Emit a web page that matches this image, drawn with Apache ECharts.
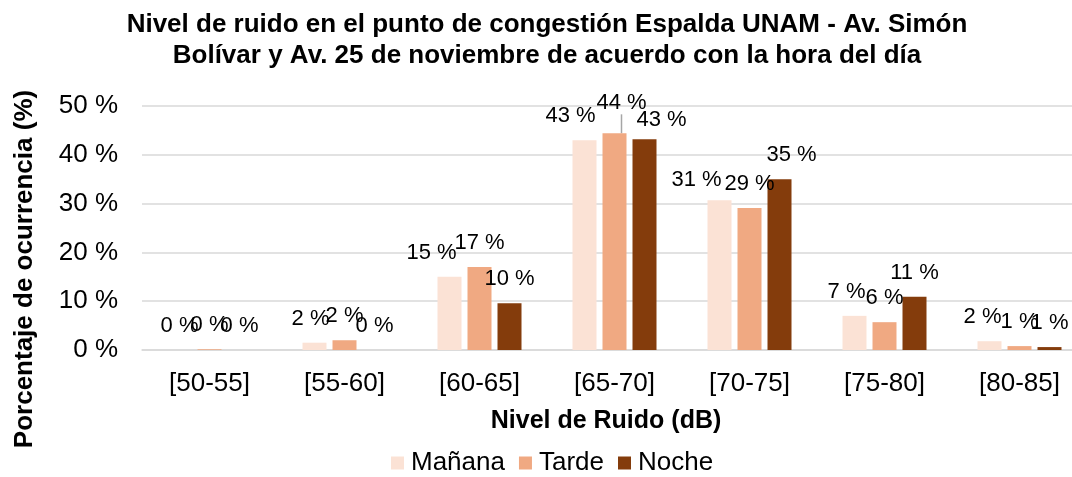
<!DOCTYPE html>
<html>
<head>
<meta charset="utf-8">
<script src="https://cdn.jsdelivr.net/npm/echarts@6/dist/echarts.min.js"></script>
<style>
  html, body { margin: 0; padding: 0; background: #fff; }
  #chart { width: 1072px; height: 477px; }
</style>
</head>
<body>
<div id="chart"></div>
<script>
// Noise-level ranges (dB) and share of occurrence (%) per time of day
const categories = ['[50-55]', '[55-60]', '[60-65]', '[65-70]', '[70-75]', '[75-80]', '[80-85]'];
const manana = [0, 1.5, 15.0, 43.0, 30.7, 7.0, 1.8];
const tarde  = [0.15, 2.0, 17.0, 44.4, 29.1, 5.7, 0.8];
const noche  = [0, 0, 9.6, 43.2, 35.0, 10.9, 0.6];
const yTicks = [0, 10, 20, 30, 40, 50];

const FONT = '"Liberation Sans", Arial, sans-serif';

// Hand-placed label nudges per series (dx, dy), keyed by category index
const labelNudge = [
  { 1: [-4, 0], 2: [-18, 0], 3: [-14, 0], 4: [-23, 4], 5: [-8, 0], 6: [-7, 0] },
  { 3: [7, -6] },
  { 3: [17, 5], 4: [12, 0] }
];
// Labels that were pulled away from their bar and get a leader line
const leaderLines = [[], [3], []];

function makeSeries(name, values, color, idx) {
  return {
    name: name,
    type: 'bar',
    data: values.map((v, i) => leaderLines[idx].includes(i)
      ? { value: v, labelLine: { show: true } }
      : v),
    barWidth: 24,
    barGap: '25%',
    itemStyle: { color: color },
    label: {
      show: true,
      position: 'top',
      distance: 13,
      color: '#000',
      fontFamily: FONT,
      fontSize: 22,
      formatter: p => Math.round(p.value) + ' %'
    },
    labelLine: {
      show: false,
      lineStyle: { color: '#a6a6a6', width: 1.5 }
    },
    labelLayout: function (p) {
      const n = labelNudge[idx][p.dataIndex];
      return n ? { dx: n[0], dy: n[1] } : {};
    }
  };
}

const chart = echarts.init(document.getElementById('chart'), null, { renderer: 'canvas' });
chart.setOption({
  backgroundColor: '#fff',
  animation: false,
  title: {
    text: 'Nivel de ruido en el punto de congestión Espalda UNAM - Av. Simón\nBolívar y Av. 25 de noviembre de acuerdo con la hora del día',
    left: 542,
    textAlign: 'center',
    top: 4,
    textStyle: {
      fontFamily: FONT,
      fontSize: 26,
      fontWeight: 'bold',
      color: '#000',
      lineHeight: 31
    }
  },
  // the plot runs past the right edge of the canvas
  grid: {
    left: 142, width: 945, top: 106, bottom: 127,
    containLabel: false,
    outerBoundsMode: 'none'
  },
  legend: {
    bottom: 1,
    padding: 0,
    left: 391,
    icon: 'rect',
    itemWidth: 13,
    itemHeight: 13,
    itemGap: 14,
    textStyle: { fontFamily: FONT, fontSize: 26, color: '#000', padding: [0, 0, 0, 2] },
    data: ['Mañana', 'Tarde', 'Noche']
  },
  xAxis: {
    type: 'category',
    data: categories,
    name: 'Nivel de Ruido (dB)',
    nameLocation: 'middle',
    nameGap: 59,
    nameTextStyle: { fontFamily: FONT, fontSize: 25, fontWeight: 'bold', color: '#000', padding: [0, 17, 0, 0] },
    axisLine: { show: true, lineStyle: { color: '#d9d9d9', width: 1.5 } },
    axisTick: { show: false },
    axisLabel: { fontFamily: FONT, fontSize: 26, color: '#000', margin: 21 }
  },
  yAxis: {
    type: 'value',
    min: yTicks[0],
    max: yTicks[yTicks.length - 1],
    interval: yTicks[1] - yTicks[0],
    axisLine: { show: false },
    axisTick: { show: false },
    splitLine: { lineStyle: { color: '#d9d9d9', width: 1.5 } },
    axisLabel: { fontFamily: FONT, fontSize: 26, color: '#000', margin: 24, formatter: '{value} %' }
  },
  graphic: [{
    type: 'text',
    x: 25,
    y: 269,
    rotation: Math.PI / 2,
    style: {
      text: 'Porcentaje de ocurrencia (%)',
      textAlign: 'center',
      textVerticalAlign: 'middle',
      font: 'bold 26px ' + FONT,
      fill: '#000'
    }
  }],
  series: [
    makeSeries('Mañana', manana, '#FBE2D5', 0),
    makeSeries('Tarde', tarde, '#F0A982', 1),
    makeSeries('Noche', noche, '#843C0C', 2)
  ]
});
</script>
</body>
</html>
